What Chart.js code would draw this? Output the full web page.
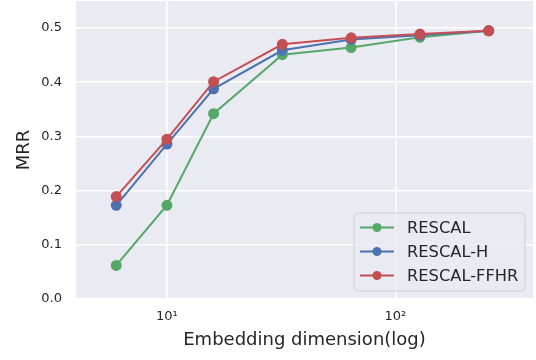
<!DOCTYPE html>
<html lang="en">
<head>
<meta charset="UTF-8">
<title>MRR vs embedding dimension</title>
<script src="https://cdn.jsdelivr.net/npm/chart.js"></script>
<style>
  html, body { margin: 0; padding: 0; background: #fff; }
  #wrap { width: 536px; height: 360px; }
</style>
</head>
<body>
<div id="wrap"><canvas id="mrrChart" width="536" height="360"></canvas></div>
<script>
// embedding dimensions (x, log scale)
const dims = [6, 10, 16, 32, 64, 128, 256];
// MRR per model
const rescal     = [0.062, 0.173, 0.342, 0.451, 0.464, 0.483, 0.495];
const rescalH    = [0.173, 0.286, 0.388, 0.459, 0.479, 0.487, 0.495];
const rescalFFHR = [0.189, 0.295, 0.401, 0.470, 0.482, 0.489, 0.495];

const yTicks = [0, 0.1, 0.2, 0.3, 0.4, 0.5];
const xTicks = [10, 100];
const xTickLabels = ['10¹', '10²'];

const txt = '#262626';
const font = 'DejaVu Sans';

function pts(vals) {
    return dims.map((d, i) => ({ x: d, y: vals[i] }));
}

function series(label, vals, color, order) {
    return {
        label: label,
        data: pts(vals),
        borderColor: color,
        backgroundColor: color,
        pointBackgroundColor: color,
        pointBorderColor: color,
        borderWidth: 2,
        pointRadius: 4.5,
        pointHoverRadius: 4.5,
        tension: 0,
        order: order
    };
}

// grey plot background (seaborn darkgrid look)
const bgPlugin = {
    id: 'bg',
    beforeDraw(chart) {
        const a = chart.chartArea, c = chart.ctx;
        c.save();
        c.fillStyle = '#EAEAF2';
        c.fillRect(a.left, a.top, a.right - a.left, a.bottom - a.top);
        c.restore();
    }
};

// legend box in the lower right corner of the plot
const legendPlugin = {
    id: 'boxLegend',
    afterDraw(chart) {
        const c = chart.ctx, a = chart.chartArea;
        const x0 = a.right - 179, y0 = a.bottom - 86, w = 171, h = 78;
        c.save();
        c.beginPath();
        c.roundRect(x0, y0, w, h, 4);
        c.fillStyle = 'rgba(234,234,242,0.8)';
        c.fill();
        c.strokeStyle = '#cfcfd6';
        c.lineWidth = 1;
        c.stroke();
        c.font = '16.3px "' + font + '"';
        c.textBaseline = 'middle';
        chart.data.datasets.forEach((ds, i) => {
            const y = y0 + 14.5 + i * 24;
            c.strokeStyle = ds.borderColor;
            c.lineWidth = 2;
            c.beginPath();
            c.moveTo(x0 + 6, y);
            c.lineTo(x0 + 40, y);
            c.stroke();
            c.fillStyle = ds.borderColor;
            c.beginPath();
            c.arc(x0 + 23, y, 4.5, 0, Math.PI * 2);
            c.fill();
            c.fillStyle = txt;
            c.fillText(ds.label, x0 + 53, y + 1);
        });
        c.restore();
    }
};

new Chart(document.getElementById('mrrChart'), {
    type: 'line',
    data: {
        datasets: [
            series('RESCAL', rescal, '#55A868', 3),
            series('RESCAL-H', rescalH, '#4C72B0', 2),
            series('RESCAL-FFHR', rescalFFHR, '#C44E52', 1)
        ]
    },
    options: {
        responsive: false,
        animation: false,
        layout: { autoPadding: false, padding: { top: 1, right: 3, left: 0, bottom: 0 } },
        plugins: {
            legend: { display: false },
            tooltip: { enabled: false }
        },
        scales: {
            x: {
                type: 'logarithmic',
                min: 4,
                max: 400,
                afterBuildTicks(axis) {
                    axis.ticks = xTicks.map(v => ({ value: v }));
                },
                afterFit(axis) {
                    axis.height = 61;
                    axis.paddingLeft = 0;
                    axis.paddingRight = 0;
                },
                ticks: {
                    autoSkip: false,
                    maxRotation: 0,
                    padding: 10,
                    color: txt,
                    font: { family: font, size: 13 },
                    callback: (v) => xTickLabels[xTicks.indexOf(v)] || ''
                },
                grid: { color: '#ffffff', lineWidth: 1.6, drawTicks: false },
                border: { display: false },
                title: {
                    display: true,
                    text: 'Embedding dimension(log)',
                    color: txt,
                    font: { family: font, size: 18 },
                    padding: { top: 0, bottom: 9 }
                }
            },
            y: {
                min: 0,
                max: 0.55,
                afterBuildTicks(axis) {
                    axis.ticks = yTicks.map(v => ({ value: v }));
                },
                afterFit(axis) {
                    axis.width = 76;
                    axis.paddingTop = 0;
                    axis.paddingBottom = 0;
                },
                ticks: {
                    padding: 14,
                    color: txt,
                    font: { family: font, size: 13 },
                    callback: (v) => v.toFixed(1)
                },
                grid: { color: '#ffffff', lineWidth: 1.6, drawTicks: false },
                border: { display: false },
                title: {
                    display: true,
                    text: 'MRR',
                    color: txt,
                    font: { family: font, size: 18 },
                    padding: { top: 14, bottom: 0 }
                }
            }
        }
    },
    plugins: [bgPlugin, legendPlugin]
});
</script>
</body>
</html>
